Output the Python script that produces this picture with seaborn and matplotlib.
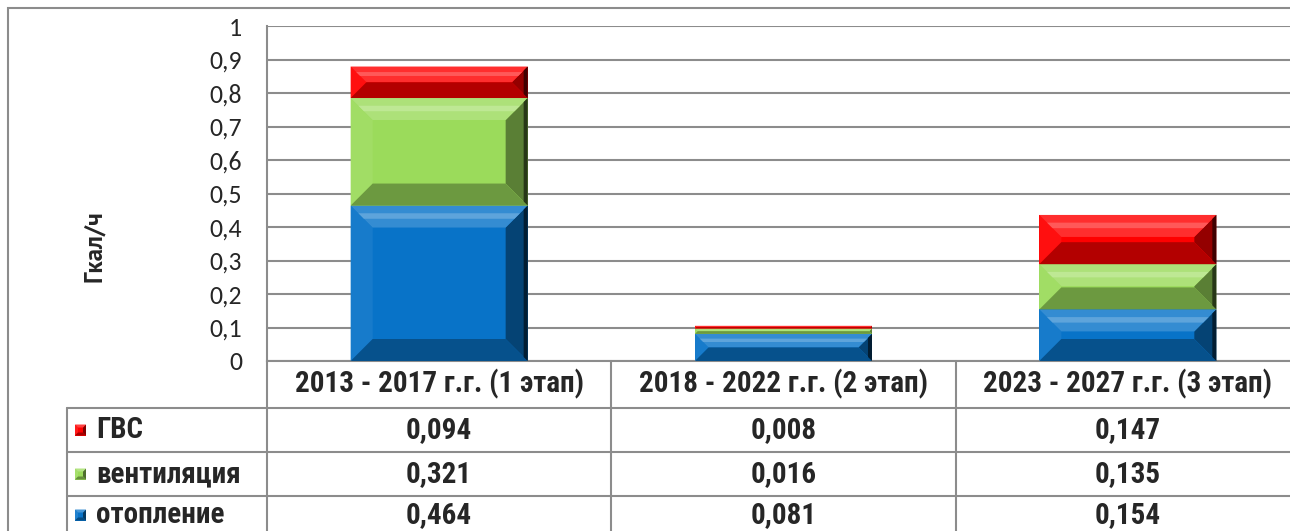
import numpy as np
import pandas as pd
import matplotlib
matplotlib.use("Agg")
import matplotlib.pyplot as plt
import seaborn as sns
import matplotlib.colors as mc
from matplotlib.patches import Polygon, Rectangle
from matplotlib.lines import Line2D
from matplotlib.transforms import IdentityTransform
from matplotlib import font_manager as fm

# ---------------- data ----------------
categories = ["2013 - 2017 г.г. (1 этап)",
              "2018 - 2022 г.г. (2 этап)",
              "2023 - 2027 г.г. (3 этап)"]
otoplenie = [0.464, 0.081, 0.154]
ventilyatsiya = [0.321, 0.016, 0.135]
gvs = [0.094, 0.008, 0.147]
series_names = ["отопление", "вентиляция", "ГВС"]          # bottom -> top
series_colors = ["#0873C8", "#9BDB5B", "#FF0000"]
y_ticks = [0, 0.1, 0.2, 0.3, 0.4, 0.5, 0.6, 0.7, 0.8, 0.9, 1.0]
y_tick_labels = ["0", "0,1", "0,2", "0,3", "0,4", "0,5", "0,6", "0,7", "0,8", "0,9", "1"]
y_label = "Гкал/ч"

# ---------------- style ----------------
sns.set_style("white")
fonts = list(fm.fontManager.ttflist)


def wval(w):
    if isinstance(w, (int, float)):
        return int(w)
    return 700 if str(w) == "bold" else 400


def font_file(cands, bold=False):
    for c in cands:
        for f in fonts:
            if f.name == c and f.style == "normal":
                wv = wval(f.weight)
                if (bold and wv == 700) or (not bold and wv == 400):
                    return f.fname
    return None


def fprop(cands, size, bold=False):
    fn = font_file(cands, bold)
    if fn:
        return fm.FontProperties(fname=fn, size=size)
    return fm.FontProperties(family="DejaVu Sans", size=size, weight="bold" if bold else "normal")


TFS = 21
fp_table = fprop(["Roboto Condensed", "PT Sans Narrow", "Archivo Narrow", "Liberation Sans"], TFS, bold=True)
fp_tick = fprop(["Carlito", "PT Sans", "Liberation Sans"], 18.5)
fp_ylab = fprop(["PT Sans", "Open Sans", "Liberation Sans"], 18, bold=True)
plt.rcParams["font.family"] = ["DejaVu Sans"]

W, H = 1290, 531
fig = plt.figure(figsize=(W / 100, H / 100), dpi=100)
fig.patch.set_facecolor("white")

# plot area in pixels (image coords)
px_left, px_right, px_top, px_bottom = 267, 1300, 26, 361
ax = fig.add_axes([px_left / W, 1 - px_bottom / H,
                   (px_right - px_left) / W, (px_bottom - px_top) / H])
ax.set_facecolor("white")

GRID = "#8C8C8C"


def mix(c, other, t):
    c = np.array(mc.to_rgb(c))
    o = np.array(mc.to_rgb(other))
    return tuple(c * (1 - t) + o * t)


def bevel(add, x0, y0, x1, y1, color, bmax=22, z=3):
    """bevel decoration in display coordinates"""
    b = min(bmax, (y1 - y0) / 2.0, (x1 - x0) / 2.0)
    parts = [
        ([(x0, y0), (x0 + b, y0 + b), (x0 + b, y1 - b), (x0, y1)], mix(color, "white", 0.06)),
        ([(x1, y0), (x1 - b, y0 + b), (x1 - b, y1 - b), (x1, y1)], mix(color, "black", 0.42)),
        ([(x0, y1), (x1, y1), (x1 - b, y1 - b), (x0 + b, y1 - b)], mix(color, "white", 0.18)),
        ([(x0, y0), (x1, y0), (x1 - b, y0 + b), (x0 + b, y0 + b)], mix(color, "black", 0.30)),
    ]
    for pts, col in parts:
        add(Polygon(pts, closed=True, facecolor=col, edgecolor="none",
                    transform=IdentityTransform(), zorder=z, clip_on=False))
    if b > 4:
        add(Polygon([(x0 + b * 0.35, y1 - b * 0.35), (x1 - b * 0.35, y1 - b * 0.35),
                     (x1 - b * 0.6, y1 - b * 0.6), (x0 + b * 0.6, y1 - b * 0.6)], closed=True,
                    facecolor=mix(color, "white", 0.35), edgecolor="none",
                    transform=IdentityTransform(), zorder=z + 0.05, clip_on=False))
        add(Polygon([(x1, y0), (x1 - 4, y0 + 4), (x1 - 4, y1 - 4), (x1, y1)], closed=True,
                    facecolor=mix(color, "black", 0.75), edgecolor="none",
                    transform=IdentityTransform(), zorder=z + 0.05, clip_on=False))


# ---------------- bars ----------------
ax.set_xlim(-0.5, 2.5)
ax.set_ylim(0, 1)
bottoms = np.zeros(len(categories))
all_vals = [otoplenie, ventilyatsiya, gvs]
bar_groups = []
for name, vals, col in zip(series_names, all_vals, series_colors):
    df = pd.DataFrame({"cat": categories, "val": vals})
    n0 = len(ax.patches)
    sns.barplot(data=df, x="cat", y="val", order=categories, color=col, saturation=1,
                width=0.514, bottom=bottoms.copy(), errorbar=None, linewidth=0, ax=ax, zorder=2)
    bar_groups.append((col, ax.patches[n0:]))
    bottoms = bottoms + np.array(vals)

ax.set_xlim(-0.5, 2.5)
ax.set_ylim(0, 1)
for col, patches in bar_groups:
    for p in patches:
        (x0, y0), (x1, y1) = ax.transData.transform([(p.get_x(), p.get_y()),
                                                     (p.get_x() + p.get_width(), p.get_y() + p.get_height())])
        bevel(ax.add_patch, x0, y0, x1, y1, col)

# ---------------- axes styling ----------------
ax.set_yticks(y_ticks)
ax.set_yticklabels(y_tick_labels, fontproperties=fp_tick)
ax.set_xticks([])
ax.set_xlabel("")
ax.set_ylabel(y_label, fontproperties=fp_ylab, va="center")
ax.yaxis.set_label_coords((94 - px_left) / (px_right - px_left), (px_bottom - 246) / (px_bottom - px_top))
ax.tick_params(axis="y", length=0, pad=18)
ax.yaxis.grid(True, color=GRID, lw=1.5)
ax.set_axisbelow(True)
for s in ["top", "right"]:
    ax.spines[s].set_visible(False)
for s in ["left", "bottom"]:
    ax.spines[s].set_color(GRID)
    ax.spines[s].set_linewidth(1.5)

# ---------------- data table ----------------
col_edges = ax.transData.transform([(e, 0) for e in [-0.5, 0.5, 1.5, 2.5]])[:, 0]
col_centers = ax.transData.transform([(i, 0) for i in range(len(categories))])[:, 0]


def dy(y_img):
    return H - y_img


def hline(x0, x1, y_img):
    fig.add_artist(Line2D([x0, x1], [dy(y_img), dy(y_img)], color=GRID, lw=1.5,
                          transform=IdentityTransform()))


def vline(x, y0_img, y1_img):
    fig.add_artist(Line2D([x, x], [dy(y0_img), dy(y1_img)], color=GRID, lw=1.5,
                          transform=IdentityTransform()))


label_left = 67
row_lines = [408, 452, 496]
row_centers = [430, 474, 515]
header_center = 384

for yl in row_lines:
    hline(label_left, W + 20, yl)
vline(label_left, 408, H + 10)
for xe in col_edges[:-1]:
    vline(xe, 361, H + 10)

for xc, cat in zip(col_centers, categories):
    fig.text(xc / W, dy(header_center) / H, cat, ha="center", va="center", fontproperties=fp_table)

table_rows = list(zip(series_names, all_vals, series_colors))[::-1]   # ГВС, вентиляция, отопление
for (name, vals, col), yc in zip(table_rows, row_centers):
    k = 11
    kx0, ky0 = 75, dy(yc) - k / 2
    fig.add_artist(Rectangle((kx0, ky0), k, k, facecolor=col, edgecolor="none",
                             transform=IdentityTransform()))
    kx1, ky1 = kx0 + k, ky0 + k
    for pts, c in [
        ([(kx0, ky0), (kx0 + 3, ky0 + 3), (kx0 + 3, ky1 - 3), (kx0, ky1)], mix(col, "white", 0.1)),
        ([(kx1, ky0), (kx1 - 3, ky0 + 3), (kx1 - 3, ky1 - 3), (kx1, ky1)], mix(col, "black", 0.5)),
        ([(kx0, ky1), (kx1, ky1), (kx1 - 3, ky1 - 3), (kx0 + 3, ky1 - 3)], mix(col, "white", 0.25)),
        ([(kx0, ky0), (kx1, ky0), (kx1 - 3, ky0 + 3), (kx0 + 3, ky0 + 3)], mix(col, "black", 0.35)),
    ]:
        fig.add_artist(Polygon(pts, closed=True, facecolor=c, edgecolor="none",
                               transform=IdentityTransform()))
    fig.text(96 / W, dy(yc) / H, name, ha="left", va="center", fontproperties=fp_table)
    for xc, v in zip(col_centers, vals):
        fig.text(xc / W, dy(yc) / H, f"{v:.3f}".replace(".", ","), ha="center", va="center",
                 fontproperties=fp_table)

# outer chart frame
fig.add_artist(Rectangle((8, -20), W + 40, dy(8) + 20, facecolor="none", edgecolor=GRID, lw=1.5,
                         transform=IdentityTransform()))

fig.savefig("out.png", dpi=100, facecolor="white")
